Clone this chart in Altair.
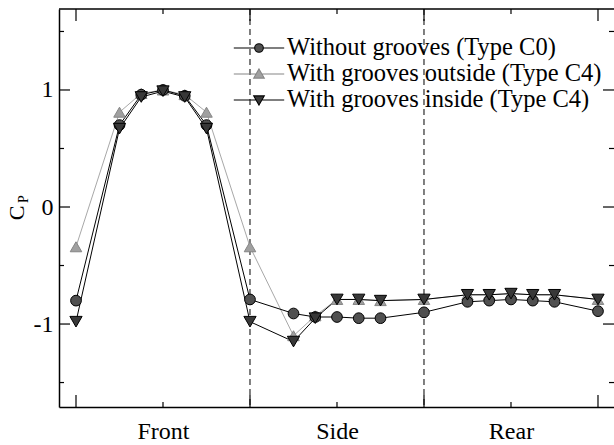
import altair as alt
import pandas as pd

# ---------------- data ----------------
series_names = ["Without grooves (Type C0)",
                "With grooves outside (Type C4)",
                "With grooves inside (Type C4)"]
section_labels = ["Front", "Side", "Rear"]
section_label_pos = [0.5, 1.5, 2.5]
section_bounds = [1, 2]
x_major = [0, 1, 2, 3]
x_minor = [0.5, 1.5, 2.5]
y_major = [-1, 0, 1]
y_minor = [-1.5, -0.5, 0.5, 1.5]

tap_pos = [0, 0.25, 0.375, 0.5, 0.625, 0.75, 1,
           1.25, 1.375, 1.5, 1.625, 1.75, 2,
           2.25, 2.375, 2.5, 2.625, 2.75, 3]
cp_c0 = [-0.80, 0.70, 0.96, 1.00, 0.95, 0.70, -0.79,
         -0.91, -0.94, -0.94, -0.95, -0.95, -0.90,
         -0.81, -0.80, -0.79, -0.80, -0.81, -0.89]
cp_out = [-0.34, 0.81, 0.97, 1.00, 0.96, 0.81, -0.34,
          -1.10, -0.93, -0.79, -0.79, -0.80, -0.79,
          -0.75, -0.75, -0.74, -0.75, -0.75, -0.79]
cp_in = [-0.98, 0.67, 0.94, 0.99, 0.94, 0.67, -0.98,
         -1.15, -0.95, -0.79, -0.79, -0.80, -0.79,
         -0.75, -0.75, -0.74, -0.75, -0.75, -0.79]

y_title_main = "C"
y_title_sub = "P"

# ---------------- tables ----------------
rows = []
for name, vals in [(series_names[1], cp_out), (series_names[0], cp_c0), (series_names[2], cp_in)]:
    for xp, v in zip(tap_pos, vals):
        rows.append({"series": name, "pos": xp, "cp": v})
df = pd.DataFrame(rows)

# ---------------- styles ----------------
W, H = 555, 398
FONT = "Liberation Serif"
x_scale = alt.Scale(domain=[-0.0977, 3.092], nice=False, zero=False)
y_scale = alt.Scale(domain=[-1.709, 1.692], nice=False, zero=False)

line_colors = ["#000000", "#a8a8a8", "#000000"]
line_widths = [1.0, 1.0, 1.3]
fill_colors = ["#505050", "#a0a0a0", "#383838"]
stroke_colors = ["#000000", "#858585", "#000000"]
shapes = ["circle", "triangle-up", "triangle-down"]
sizes = [115, 150, 150]
legend_paths = [
    "M-2.1,0L-0.36,0M0.36,0L2.1,0M0.36,0A0.36,0.36,0,1,1,-0.36,0A0.36,0.36,0,1,1,0.36,0Z",
    "M-2.1,0L-0.25,0M0.25,0L2.1,0M0,-0.42L0.44,0.34L-0.44,0.34Z",
    "M-2.1,0L-0.25,0M0.25,0L2.1,0M0,0.42L0.44,-0.34L-0.44,-0.34Z",
]

label_expr = "''"
for p, lab in reversed(list(zip(section_label_pos, section_labels))):
    label_expr = f"datum.value == {p} ? '{lab}' : ({label_expr})"

x_axis = alt.Axis(values=section_label_pos, labelExpr=label_expr, title=None, orient="bottom",
                  tickSize=0, grid=False, domain=True, domainColor="black",
                  domainWidth=1.5, labelFont=FONT, labelFontSize=24,
                  labelColor="black", labelBaseline="alphabetic", labelPadding=31)
y_axis = alt.Axis(values=y_major, labelExpr="datum.value + ''", title=None, orient="left",
                  tickSize=0, grid=False, domain=True, domainColor="black",
                  domainWidth=1.5, labelFont=FONT, labelFontSize=24,
                  labelColor="black", labelPadding=6)

def X(field):
    return alt.X(field, scale=x_scale, axis=x_axis)

def Y(field):
    return alt.Y(field, scale=y_scale, axis=y_axis)

# ---------------- layers ----------------
dashed = alt.Chart(pd.DataFrame({"b": section_bounds})).mark_rule(
    color="black", strokeWidth=1, strokeDash=[6, 4]
).encode(x=X("b:Q"))

def vtick(vals, length, top):
    d = pd.DataFrame({"v": vals})
    y0, y1 = (0, length) if top else (H, H - length)
    return alt.Chart(d).mark_rule(color="black", strokeWidth=1.2).encode(
        x=X("v:Q"), y=alt.value(y0), y2=alt.value(y1))

def htick(vals, length, right):
    d = pd.DataFrame({"v": vals})
    x0, x1 = (W - length, W) if right else (0, length)
    return alt.Chart(d).mark_rule(color="black", strokeWidth=1.2).encode(
        y=Y("v:Q"), x=alt.value(x0), x2=alt.value(x1))

ticks = [vtick(x_major, 12, False), vtick(x_minor, 5, False),
         vtick(x_major, 12, True), vtick(x_minor, 5, True),
         htick(y_major, 11, False), htick(y_minor, 5, False),
         htick(y_major, 11, True), htick(y_minor, 5, True)]

top_frame = alt.Chart(pd.DataFrame({"k": [0]})).mark_rule(
    color="black", strokeWidth=1.5
).encode(x=alt.value(0), x2=alt.value(W), y=alt.value(0))

lines = alt.Chart(df).mark_line().encode(
    x=X("pos:Q"),
    y=Y("cp:Q"),
    detail="series:N",
    stroke=alt.Stroke("series:N", scale=alt.Scale(domain=series_names, range=line_colors), legend=None),
    strokeWidth=alt.StrokeWidth("series:N", scale=alt.Scale(domain=series_names, range=line_widths), legend=None),
)

points = alt.Chart(df).mark_point(filled=True, opacity=1, strokeWidth=1).encode(
    x=X("pos:Q"),
    y=Y("cp:Q"),
    shape=alt.Shape("series:N", scale=alt.Scale(domain=series_names, range=shapes), legend=None),
    fill=alt.Fill("series:N", scale=alt.Scale(domain=series_names, range=fill_colors), legend=None),
    stroke=alt.Stroke("series:N", scale=alt.Scale(domain=series_names, range=stroke_colors), legend=None),
    size=alt.Size("series:N", scale=alt.Scale(domain=series_names, range=sizes), legend=None),
)

leg = alt.Legend(title=None, orient="none", legendX=187, legendY=26, padding=0,
                 symbolSize=576, symbolStrokeWidth=1.1, labelFont=FONT,
                 labelFontSize=24.5, labelColor="black", labelOffset=15,
                 rowPadding=1, labelLimit=400)
legend_layer = alt.Chart(df).transform_filter("false").mark_point(filled=True, opacity=1).encode(
    x=X("pos:Q"),
    y=Y("cp:Q"),
    shape=alt.Shape("series:N", scale=alt.Scale(domain=series_names, range=legend_paths), legend=leg),
    fill=alt.Fill("series:N", scale=alt.Scale(domain=series_names, range=fill_colors), legend=leg),
    stroke=alt.Stroke("series:N", scale=alt.Scale(domain=series_names, range=stroke_colors), legend=leg),
)

title_c = alt.Chart(pd.DataFrame({"t": [y_title_main]})).mark_text(
    font=FONT, fontSize=22, angle=270, align="center", baseline="middle", color="black"
).encode(text="t:N", x=alt.value(-42), y=alt.value(204))
title_p = alt.Chart(pd.DataFrame({"t": [y_title_sub]})).mark_text(
    font=FONT, fontSize=14, angle=270, align="center", baseline="middle", color="black"
).encode(text="t:N", x=alt.value(-35), y=alt.value(190))

chart = alt.layer(
    dashed, *ticks, top_frame, lines, points, legend_layer, title_c, title_p
).resolve_scale(
    shape="independent", fill="independent", stroke="independent"
).properties(
    width=W, height=H,
    autosize=alt.AutoSizeParams(type="none"),
    padding={"left": 59, "top": 9, "right": 0, "bottom": 38},
    background="white",
).configure_view(stroke="transparent")

chart.save("out.html", embed_options={"renderer": "svg", "actions": False})
